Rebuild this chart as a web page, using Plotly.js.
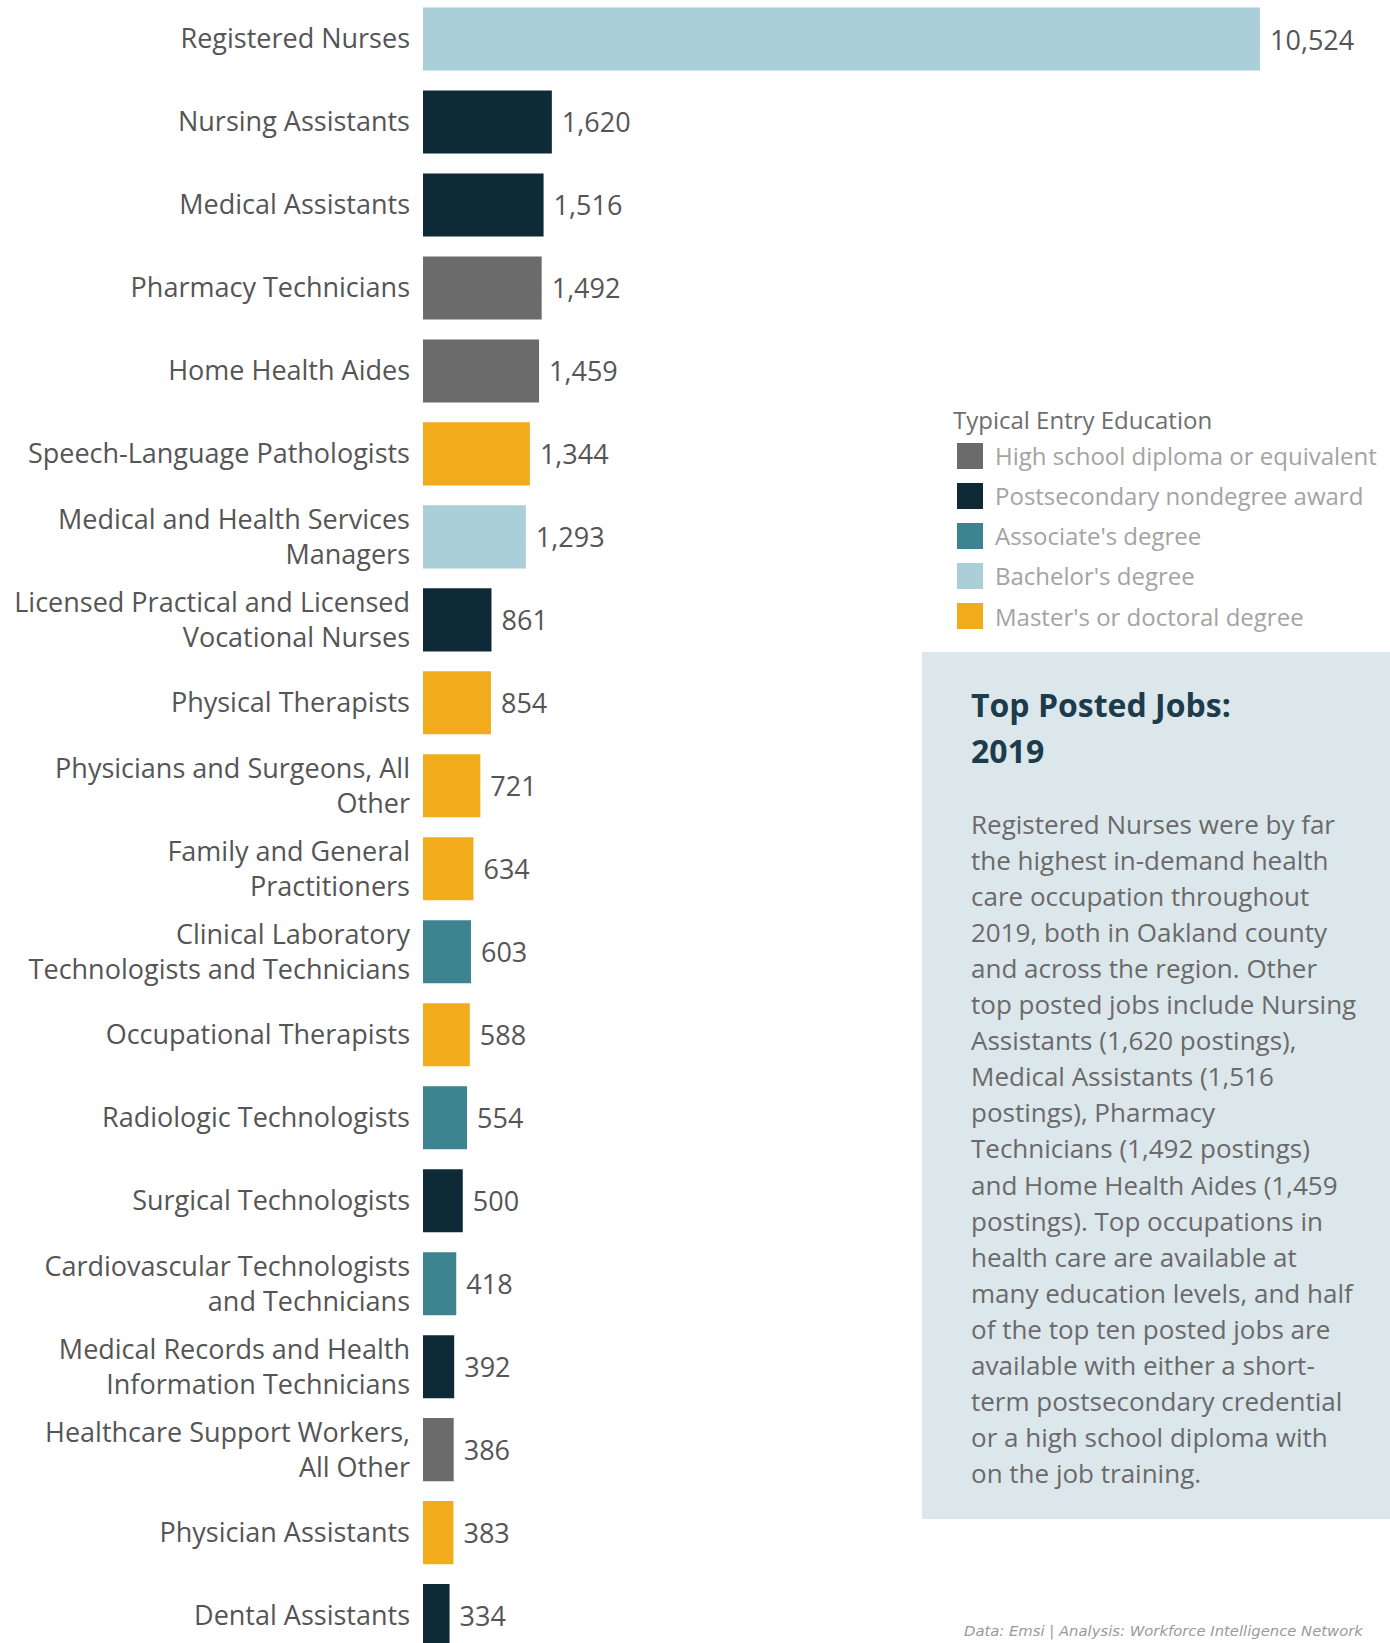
<!DOCTYPE html>
<html>
<head>
<meta charset="utf-8">
<script src="https://cdn.plot.ly/plotly-3.0.1.min.js"></script>
<style>
  html, body { margin: 0; padding: 0; background: #ffffff; }
  #chart { width: 1390px; height: 1643px; }
</style>
</head>
<body>
<div id="chart"></div>
<script>
// ---------- data ----------
const jobs = [
  "Registered Nurses", "Nursing Assistants", "Medical Assistants", "Pharmacy Technicians",
  "Home Health Aides", "Speech-Language Pathologists", "Medical and Health Services Managers",
  "Licensed Practical and Licensed Vocational Nurses", "Physical Therapists",
  "Physicians and Surgeons, All Other", "Family and General Practitioners",
  "Clinical Laboratory Technologists and Technicians", "Occupational Therapists",
  "Radiologic Technologists", "Surgical Technologists",
  "Cardiovascular Technologists and Technicians",
  "Medical Records and Health Information Technicians",
  "Healthcare Support Workers, All Other", "Physician Assistants", "Dental Assistants"
];
const tickLabels = [
  "Registered Nurses", "Nursing Assistants", "Medical Assistants", "Pharmacy Technicians",
  "Home Health Aides", "Speech-Language Pathologists", "Medical and Health Services<br>Managers",
  "Licensed Practical and Licensed<br>Vocational Nurses", "Physical Therapists",
  "Physicians and Surgeons, All<br>Other", "Family and General<br>Practitioners",
  "Clinical Laboratory<br>Technologists and Technicians", "Occupational Therapists",
  "Radiologic Technologists", "Surgical Technologists",
  "Cardiovascular Technologists<br>and Technicians",
  "Medical Records and Health<br>Information Technicians",
  "Healthcare Support Workers,<br>All Other", "Physician Assistants", "Dental Assistants"
];
const postings = [10524, 1620, 1516, 1492, 1459, 1344, 1293, 861, 854, 721, 634, 603, 588, 554, 500, 418, 392, 386, 383, 334];
const education = [
  "Bachelor's degree", "Postsecondary nondegree award", "Postsecondary nondegree award",
  "High school diploma or equivalent", "High school diploma or equivalent",
  "Master's or doctoral degree", "Bachelor's degree", "Postsecondary nondegree award",
  "Master's or doctoral degree", "Master's or doctoral degree", "Master's or doctoral degree",
  "Associate's degree", "Master's or doctoral degree", "Associate's degree",
  "Postsecondary nondegree award", "Associate's degree", "Postsecondary nondegree award",
  "High school diploma or equivalent", "Master's or doctoral degree", "Postsecondary nondegree award"
];
const levels = [
  "High school diploma or equivalent", "Postsecondary nondegree award",
  "Associate's degree", "Bachelor's degree", "Master's or doctoral degree"
];
const levelColors = ["#6b6b6b", "#0e2a37", "#3d8390", "#aacfd9", "#f2ac1b"];

const legendTitle = "Typical Entry Education";
const noteTitleLines = ["Top Posted Jobs:", "2019"];
const noteLines = [
  "Registered Nurses were by far",
  "the highest in-demand health",
  "care occupation throughout",
  "2019, both in Oakland county",
  "and across the region. Other",
  "top posted jobs include Nursing",
  "Assistants (1,620 postings),",
  "Medical Assistants (1,516",
  "postings), Pharmacy",
  "Technicians (1,492 postings)",
  "and Home Health Aides (1,459",
  "postings). Top occupations in",
  "health care are available at",
  "many education levels, and half",
  "of the top ten posted jobs are",
  "available with either a short-",
  "term postsecondary credential",
  "or a high school diploma with",
  "on the job training."
];
const sourceNote = "Data: Emsi | Analysis: Workforce Intelligence Network";

// ---------- layout constants ----------
const W = 1390, H = 1643, L = 423;
const FONT = "'Open Sans', 'Noto Sans', sans-serif";
const px = x => (x - L) / (W - L);   // pixel x -> paper x
const py = y => 1 - y / H;           // pixel y -> paper y

// ---------- traces ----------
const traces = levels.map((lvl, li) => {
  const xs = [], ys = [];
  jobs.forEach((j, i) => { if (education[i] === lvl) { xs.push(postings[i]); ys.push(j); } });
  return {
    type: "bar", orientation: "h", name: lvl, showlegend: false,
    x: xs, y: ys,
    marker: { color: levelColors[li], line: { width: 0 } },
    texttemplate: "\u00a0%{x:,}", textposition: "outside", constraintext: "none",
    textfont: { family: FONT, size: 27, color: "#555555" },
    cliponaxis: false, hoverinfo: "x+y"
  };
});

// ---------- annotations & shapes ----------
const annotations = [];
const shapes = [
  {
    type: "rect", xref: "paper", yref: "paper", layer: "below",
    x0: px(922), x1: 1, y0: py(1519), y1: py(652),
    fillcolor: "#dce7eb", line: { width: 0 }
  }
];

// legend (Typical Entry Education)
annotations.push({
  xref: "paper", yref: "paper", x: px(951), y: py(419), xanchor: "left", yanchor: "middle",
  text: legendTitle, showarrow: false,
  font: { family: FONT, size: 24, color: "#6e6e6e" }
});
levels.forEach((lvl, i) => {
  const cy = 456 + i * 40;
  shapes.push({
    type: "rect", xref: "paper", yref: "paper",
    x0: px(957), x1: px(983), y0: py(cy + 13), y1: py(cy - 13),
    fillcolor: levelColors[i], line: { width: 0 }
  });
  annotations.push({
    xref: "paper", yref: "paper", x: px(993), y: py(cy), xanchor: "left", yanchor: "middle",
    text: lvl, showarrow: false,
    font: { family: FONT, size: 24, color: "#a3a3a3" }
  });
});

// text box
noteTitleLines.forEach((line, i) => {
  annotations.push({
    xref: "paper", yref: "paper", x: px(969), y: py(704 + i * 46), xanchor: "left", yanchor: "middle",
    text: "<b>" + line + "</b>", showarrow: false,
    font: { family: FONT, size: 32, color: "#1d3c4b" }
  });
});
noteLines.forEach((line, i) => {
  annotations.push({
    xref: "paper", yref: "paper", x: px(969), y: py(824 + i * 36.05), xanchor: "left", yanchor: "middle",
    text: line, showarrow: false,
    font: { family: FONT, size: 26, color: "#6a6a6a" }
  });
});

// source
annotations.push({
  xref: "paper", yref: "paper", x: px(962), y: py(1631), xanchor: "left", yanchor: "middle",
  text: "<i>" + sourceNote + "</i>", showarrow: false,
  font: { family: "'DejaVu Sans', sans-serif", size: 14.8, color: "#9a9a9a" }
});

const layout = {
  width: W, height: H,
  margin: { l: L, r: 0, t: 0, b: 0, pad: 0 },
  paper_bgcolor: "#ffffff", plot_bgcolor: "rgba(0,0,0,0)",
  barmode: "overlay", bargap: 0.24,
  showlegend: false,
  xaxis: { range: [0, 12158], visible: false, fixedrange: true },
  yaxis: {
    type: "category", categoryorder: "array", categoryarray: jobs,
    range: [19.33, -0.47], tickvals: jobs, ticktext: tickLabels,
    showgrid: false, zeroline: false, showline: false, ticks: "",
    ticklabelstandoff: 12,
    tickfont: { family: FONT, size: 27, color: "#555555" }
  },
  shapes: shapes,
  annotations: annotations
};

Plotly.newPlot("chart", traces, layout, { displayModeBar: false, staticPlot: true });
</script>
</body>
</html>
